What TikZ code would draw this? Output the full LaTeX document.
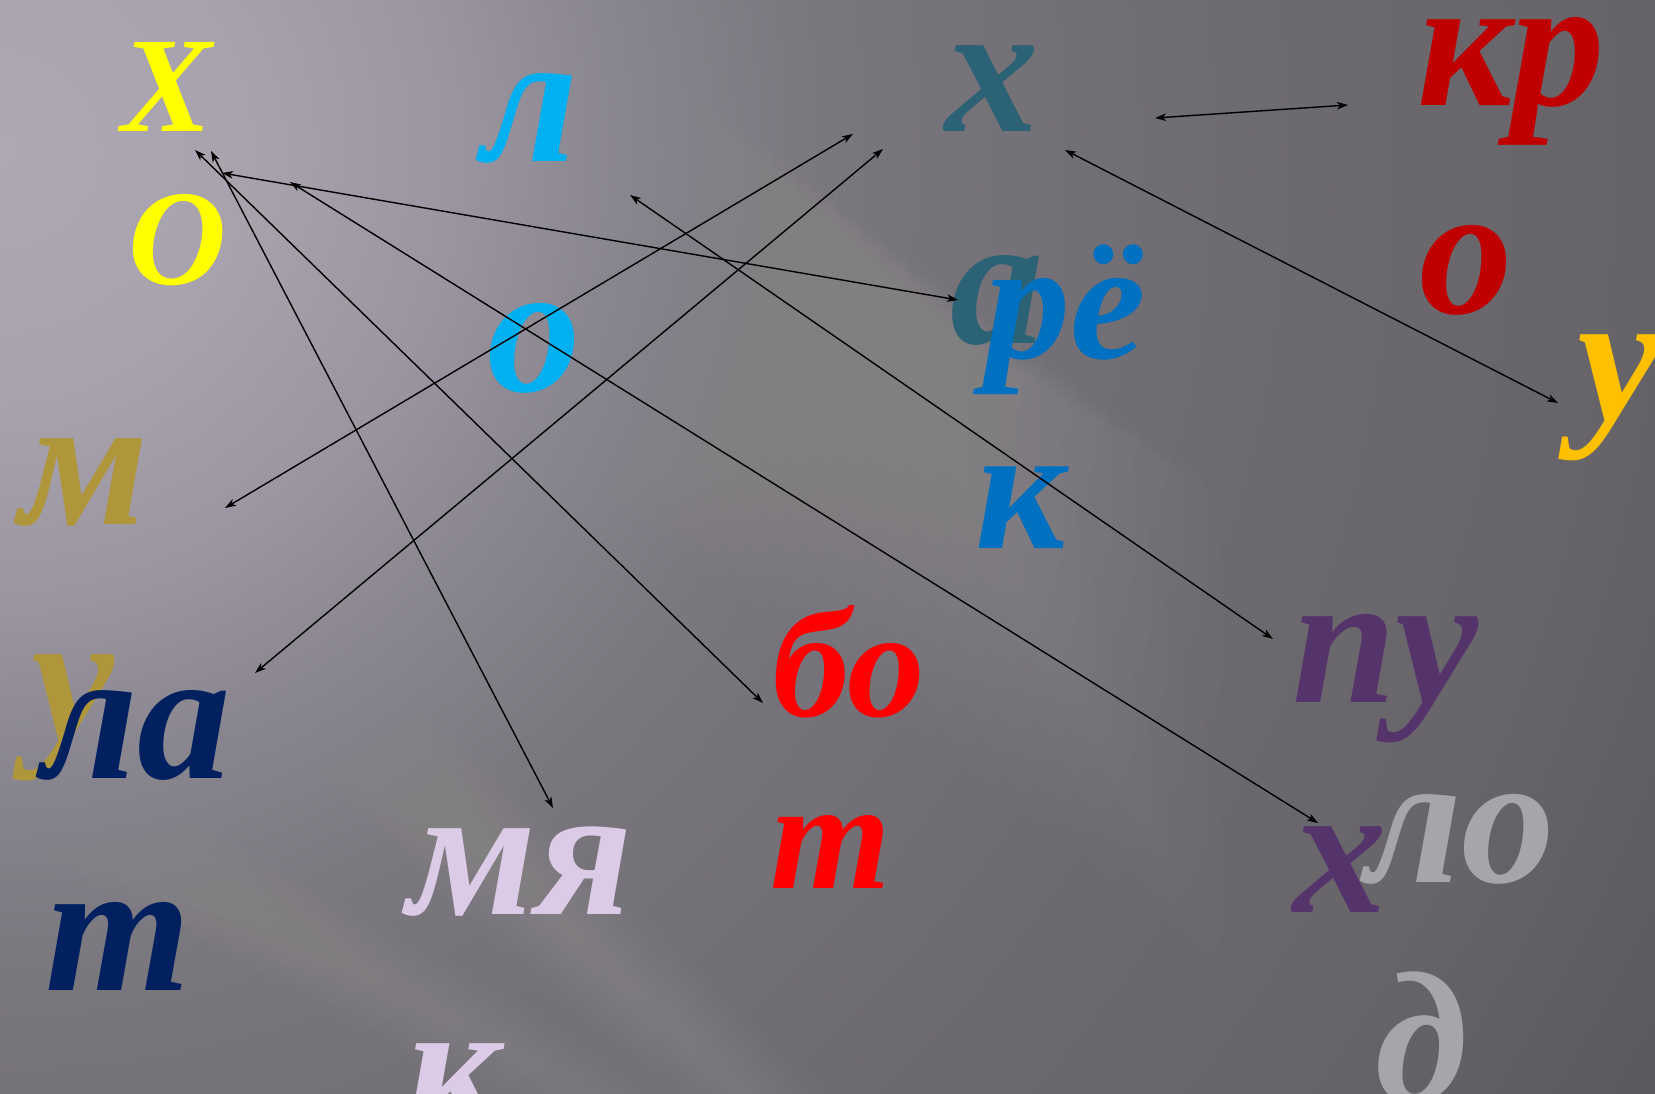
\documentclass[tikz,border=0pt]{standalone}
\usepackage{fontspec}
\setmainfont{Liberation Serif}
\usetikzlibrary{arrows.meta}
\definecolor{cYellow}{HTML}{FFFF00}
\definecolor{cCyan}{HTML}{00B0F0}
\definecolor{cTeal}{HTML}{2C6275}
\definecolor{cDarkRed}{HTML}{C00000}
\definecolor{cGold}{HTML}{FFC000}
\definecolor{cBlue}{HTML}{0070C0}
\definecolor{cOlive}{HTML}{B0963A}
\definecolor{cNavy}{HTML}{002060}
\definecolor{cLav}{HTML}{DCCBE6}
\definecolor{cRed}{HTML}{FF0000}
\definecolor{cPurple}{HTML}{55346B}
\definecolor{cGray}{HTML}{A6A5AB}
\definecolor{bg0}{HTML}{ADA8B3}
\definecolor{bg1}{HTML}{A7A2AC}
\definecolor{bg2}{HTML}{9A95A0}
\definecolor{bg3}{HTML}{8A868F}
\definecolor{bg4}{HTML}{7C7880}
\definecolor{bg5}{HTML}{78747B}
\definecolor{bg6}{HTML}{6C696F}
\definecolor{bg7}{HTML}{67646A}
\definecolor{bg8}{HTML}{5A575C}
\pgfdeclareradialshading{bgshade}{\pgfpoint{0bp}{0bp}}{color(0bp)=(bg0); color(3.2bp)=(bg1); color(5.8bp)=(bg2); color(7.9bp)=(bg3); color(10.3bp)=(bg4); color(11.5bp)=(bg5); color(16.7bp)=(bg6); color(20.5bp)=(bg7); color(25bp)=(bg8); color(50bp)=(bg8)}
\tikzset{
  letter/.style={inner sep=0pt, outer sep=0pt, anchor=base west,
    font={\bfseries\itshape\fontsize{187}{187}\selectfont}},
  midletter/.style={letter, font={\bfseries\itshape\fontsize{155}{155}\selectfont}},
  reletter/.style={letter, font={\bfseries\itshape\fontsize{170}{170}\selectfont}},
  kletter/.style={letter, font={\bfseries\itshape\fontsize{178}{178}\selectfont}},
  capletter/.style={letter, font={\bfseries\itshape\fontsize{136}{136}\selectfont}},
  link/.style={black, line width=1.4pt,
    {Stealth[length=11pt,width=7.5pt,inset=3pt]}-{Stealth[length=11pt,width=7.5pt,inset=3pt]}},
  streak/.style={white, opacity=#1},
}
\begin{document}
\begin{tikzpicture}[x=1pt,y=-1pt]
\useasboundingbox (0,0) rectangle (1655,1094);
\begin{scope}
  \clip (0,0) rectangle (1655,1094);
  \fill[bg8] (0,0) rectangle (1655,1094);
  \shade[shading=bgshade] (0,150) circle[radius=1950pt];
  % streak 1: soft upper edge from (488,0) with slope 0.76, fading downwards and towards the right
  \foreach \k in {1,...,20} {
    \pgfmathsetmacro{\s}{20*\k}
    \pgfmathsetmacro{\a}{3*\k}
    \pgfmathsetmacro{\xe}{860+18*\k}
    \pgfmathsetmacro{\ye}{0.76*(\xe-488)}
    \fill[streak=0.009] (-200,-523-\a) -- (\xe,\ye-\a) -- (\xe,\ye+\s) -- (-200,-523+\s) -- cycle;
  }
  % streak 2: soft band through (180,560), slope 0.95
  \foreach \k in {1,...,10} {
    \pgfmathsetmacro{\w}{8*\k}
    \fill[streak=0.007] (-200,199-\w) -- (1000,1339-\w) -- (1000,1339+\w) -- (-200,199+\w) -- cycle;
  }
  % streak 3: soft band through (0,773), slope 0.55
  \foreach \k in {1,...,8} {
    \pgfmathsetmacro{\w}{7*\k}
    \fill[streak=0.006] (-200,663-\w) -- (1200,1433-\w) -- (1200,1433+\w) -- (-200,663+\w) -- cycle;
  }
\end{scope}

% letters
\node[capletter, text=cYellow] (kh1) at (121,132) {Х};
\node[capletter, text=cYellow] (o1) at (128,284) {О};
\node[letter, text=cCyan] (l1) at (482,162) {л};
\node[letter, text=cCyan] (o2) at (487,391) {о};
\node[letter, text=cTeal] (kh2) at (945,132) {х};
\node[letter, text=cDarkRed] (kr) at (1417,106) {кр};
\node[letter, text=cDarkRed] (o3) at (1419,313) {о};
\node[letter, text=cGold] (u1) at (1577,420) {у};
\node[letter, text=cTeal] (a1) at (950,343) {а};
\node[reletter, text=cBlue] (re) at (985,358) {рё};
\node[kletter, text=cBlue] (k1) at (975,548) {к};
\node[letter, text=cOlive] (m1) at (20,524) {м};
\node[letter, text=cOlive] (u2) at (31,740) {у};
\node[letter, text=cNavy] (la) at (42,778) {ла};
\node[letter, text=cNavy] (t1) at (45,990) {т};
\node[letter, text=cLav] (mya) at (408,914) {мя};
\node[letter, text=cLav] (k2) at (406,1129) {к};
\node[midletter, text=cRed] (bo) at (772,716) {бо};
\node[midletter, text=cRed] (t2) at (770,888) {т};
\node[letter, text=cPurple] (pu) at (1292,702) {пу};
\node[letter, text=cPurple] (kh3) at (1293,912) {х};
\node[letter, text=cGray] (lo) at (1366,882) {ло};
\node[letter, text=cGray] (d1) at (1375,1101) {д};

% connector ends
\coordinate (e1a) at (195,150);  \coordinate (e1b) at (763,703);
\coordinate (e2a) at (211,151);  \coordinate (e2b) at (553,808);
\coordinate (e3a) at (222,173);  \coordinate (e3b) at (958,300);
\coordinate (e4a) at (290,182);  \coordinate (e4b) at (1318,823);
\coordinate (e5a) at (225,508);  \coordinate (e5b) at (853,134);
\coordinate (e6a) at (255,673);  \coordinate (e6b) at (883,149);
\coordinate (e7a) at (630,195);  \coordinate (e7b) at (1273,639);
\coordinate (e8a) at (1065,150); \coordinate (e8b) at (1558,403);
\coordinate (e9a) at (1155,118); \coordinate (e9b) at (1348,105);

\draw[link] (e1a) -- (e1b);
\draw[link] (e2a) -- (e2b);
\draw[link] (e3a) -- (e3b);
\draw[link] (e4a) -- (e4b);
\draw[link] (e5a) -- (e5b);
\draw[link] (e6a) -- (e6b);
\draw[link] (e7a) -- (e7b);
\draw[link] (e8a) -- (e8b);
\draw[link] (e9a) -- (e9b);
\end{tikzpicture}
\end{document}
